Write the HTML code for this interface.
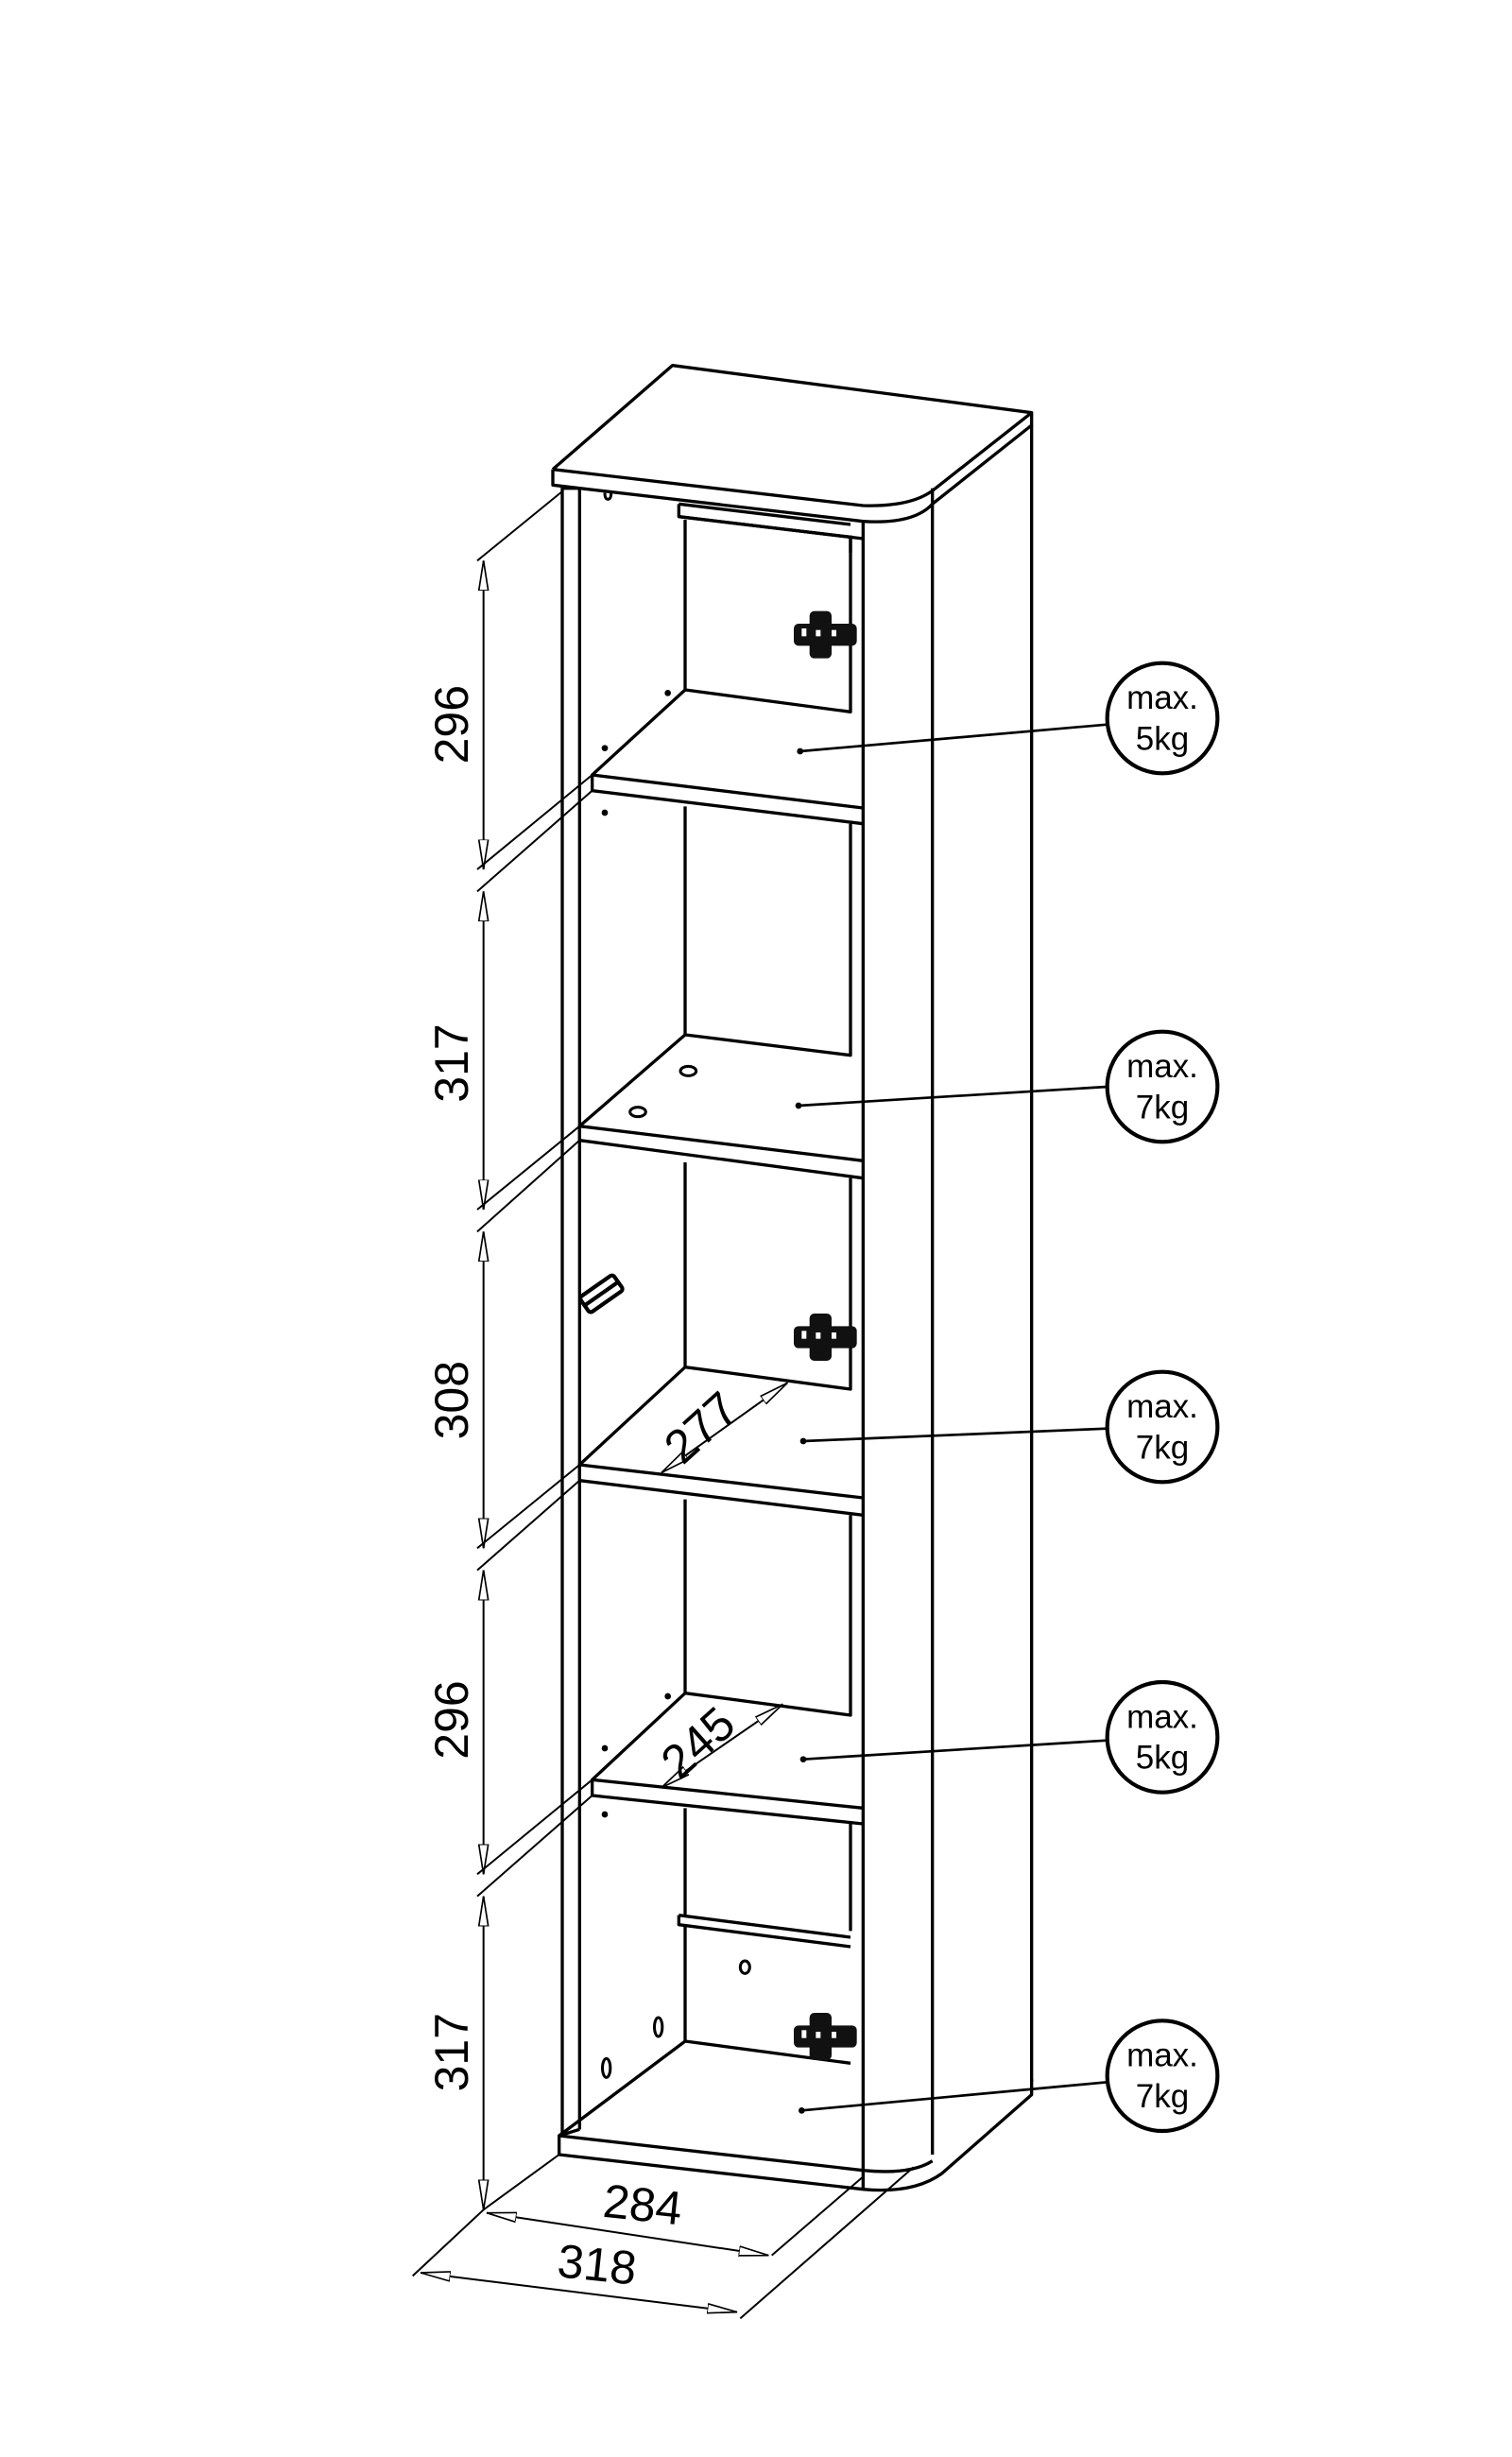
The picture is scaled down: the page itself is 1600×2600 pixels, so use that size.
<!DOCTYPE html>
<html><head><meta charset="utf-8"><style>
html,body{margin:0;padding:0;background:#fff;}
svg{display:block;}
text{font-family:"Liberation Sans","DejaVu Sans",sans-serif;fill:#000;}
</style></head><body>
<svg width="1600" height="2600" viewBox="0 0 960 1560" xmlns="http://www.w3.org/2000/svg">
<defs>
<marker id="ah" viewBox="0 0 20 8" refX="19" refY="4" markerWidth="20" markerHeight="8" markerUnits="userSpaceOnUse" orient="auto-start-reverse">
<path d="M0,1 L19,4 L0,7 Z" fill="#fff" stroke="#000" stroke-width="1"/>
</marker>
</defs>
<g fill="none" stroke="#000" stroke-width="2" stroke-linejoin="round">
<!-- top -->
<path d="M351,298 L427,232 L655,262 L594,310" />
<path d="M351,298 L548,321 Q580,322 594,310" />
<path d="M351,298 L351,308 L548,331 Q580,333 592,320 L655,270 L655,262" />
<line x1="592" y1="310" x2="592" y2="320"/>
<!-- right side -->
<line x1="655" y1="270" x2="655" y2="1322"/>
<line x1="592" y1="320" x2="592" y2="1368"/>
<line x1="548" y1="331" x2="548" y2="1390"/>
<!-- bottom right -->
<path d="M355,1356 L355,1368 L548,1390 Q580,1393 598,1380 L655,1330 L655,1320"/>
<path d="M548,1378 Q578,1381 592,1372"/>
<!-- left side -->
<line x1="357" y1="308" x2="357" y2="1356"/>
<line x1="368" y1="310" x2="368" y2="1352"/>
<path d="M357,310 L368,310"/>
<!-- top rail -->
<path d="M431,320 L431,328 L540,341 L540,351 M431,320 L540,333"/>
<line x1="431" y1="328" x2="548" y2="342"/>
<!-- shelf 1 -->
<path d="M435,330 L435,438 M435,438 L540,452 L540,340"/>
<path d="M435,438 L376,492 L548,513 M376,492 L376,502 L548,523"/>
<!-- shelf 2 -->
<path d="M435,512 L435,657 L540,670 L540,523"/>
<path d="M435,657 L368,715 L548,737 M368,715 L368,724 L548,748"/>
<!-- shelf 3 -->
<path d="M435,738 L435,868 L540,882 L540,748"/>
<path d="M435,868 L368,930 L548,951 M368,930 L368,940 L548,962"/>
<!-- shelf 4 -->
<path d="M435,952 L435,1075 L540,1089 L540,962"/>
<path d="M435,1075 L376,1130 L548,1148 M376,1130 L376,1140 L548,1158"/>
<!-- bottom compartment -->
<path d="M435,1148 L435,1216 M540,1158 L540,1226"/>
<path d="M431,1216 L540,1230 M431,1216 L431,1222 L540,1236"/>
<path d="M435,1222 L435,1296 L540,1310"/>
<path d="M435,1296 L355,1356 L548,1378"/>
<path d="M355,1356 L368,1352"/>
</g>
<!-- holes -->
<g fill="#000">
<circle cx="424" cy="440" r="2"/><circle cx="384" cy="475" r="2"/><circle cx="384" cy="516" r="2"/>
<circle cx="384" cy="1110" r="2"/><circle cx="384" cy="1152" r="2"/><circle cx="424" cy="1077" r="2"/>
<circle cx="508" cy="477" r="2"/><circle cx="507" cy="702" r="2"/><circle cx="510" cy="915" r="2"/>
<circle cx="510" cy="1117" r="2"/><circle cx="509" cy="1340" r="2"/>
</g>
<g fill="none" stroke="#000" stroke-width="1.8">
<ellipse cx="437" cy="680" rx="5" ry="3"/><ellipse cx="405" cy="706" rx="5" ry="3"/>
<ellipse cx="473" cy="1249" rx="3" ry="4"/><ellipse cx="418" cy="1287" rx="2.5" ry="6"/><ellipse cx="385" cy="1313" rx="2.5" ry="6"/>
<path d="M384,313 q0,4 2,4 q2,0 2,-4"/>
</g>
<!-- hinges -->
<g fill="#111">
<g transform="translate(504,388)"><rect x="10" y="0" width="14" height="30" rx="3"/><rect x="0" y="8" width="40" height="14" rx="3"/><rect x="5" y="11" width="3" height="5" fill="#fff"/><rect x="14" y="12" width="3" height="4" fill="#fff"/><rect x="24" y="12" width="3" height="4" fill="#fff"/></g>
<g transform="translate(504,834)"><rect x="10" y="0" width="14" height="30" rx="3"/><rect x="0" y="8" width="40" height="14" rx="3"/><rect x="5" y="11" width="3" height="5" fill="#fff"/><rect x="14" y="12" width="3" height="4" fill="#fff"/><rect x="24" y="12" width="3" height="4" fill="#fff"/></g>
<g transform="translate(504,1278)"><rect x="10" y="0" width="14" height="30" rx="3"/><rect x="0" y="8" width="40" height="14" rx="3"/><rect x="5" y="11" width="3" height="5" fill="#fff"/><rect x="14" y="12" width="3" height="4" fill="#fff"/><rect x="24" y="12" width="3" height="4" fill="#fff"/></g>
</g>
<g transform="translate(381,822) rotate(-35)" fill="#fff" stroke="#000" stroke-width="2.5"><rect x="-12" y="-6" width="26" height="12" rx="2"/><line x1="-12" y1="0" x2="14" y2="0"/></g>
<!-- dimension lines -->
<g fill="none" stroke="#000" stroke-width="1.2">
<line x1="307" y1="356" x2="307" y2="552" marker-start="url(#ah)" marker-end="url(#ah)"/>
<line x1="307" y1="566" x2="307" y2="768" marker-start="url(#ah)" marker-end="url(#ah)"/>
<line x1="307" y1="782" x2="307" y2="983" marker-start="url(#ah)" marker-end="url(#ah)"/>
<line x1="307" y1="997" x2="307" y2="1190" marker-start="url(#ah)" marker-end="url(#ah)"/>
<line x1="307" y1="1204" x2="307" y2="1403" marker-start="url(#ah)" marker-end="url(#ah)"/>
<line x1="357" y1="312" x2="303" y2="356"/>
<line x1="376" y1="492" x2="303" y2="552"/><line x1="376" y1="502" x2="303" y2="566"/>
<line x1="368" y1="715" x2="303" y2="768"/><line x1="368" y1="724" x2="303" y2="782"/>
<line x1="368" y1="930" x2="303" y2="983"/><line x1="368" y1="940" x2="303" y2="997"/>
<line x1="376" y1="1130" x2="303" y2="1190"/><line x1="376" y1="1140" x2="303" y2="1204"/>
<line x1="355" y1="1368" x2="307" y2="1403"/>
<line x1="307" y1="1403" x2="262" y2="1445"/>
<line x1="309" y1="1405" x2="488" y2="1432" marker-start="url(#ah)" marker-end="url(#ah)"/>
<line x1="267" y1="1443" x2="468" y2="1468" marker-start="url(#ah)" marker-end="url(#ah)"/>
<line x1="490" y1="1432" x2="548" y2="1382"/>
<line x1="470" y1="1472" x2="580" y2="1376"/>
<line x1="420" y1="935" x2="500" y2="878" marker-start="url(#ah)" marker-end="url(#ah)"/>
<line x1="420" y1="1135" x2="497" y2="1082" marker-start="url(#ah)" marker-end="url(#ah)"/>
<!-- leaders -->
<line x1="508" y1="477" x2="703" y2="460" stroke-width="1.6"/>
<line x1="507" y1="702" x2="703" y2="690" stroke-width="1.6"/>
<line x1="510" y1="915" x2="703" y2="907" stroke-width="1.6"/>
<line x1="510" y1="1117" x2="703" y2="1105" stroke-width="1.6"/>
<line x1="509" y1="1340" x2="703" y2="1322" stroke-width="1.6"/>
</g>
<!-- circles -->
<g fill="#fff" stroke="#000" stroke-width="2.5">
<circle cx="738" cy="456" r="35"/><circle cx="738" cy="690" r="35"/><circle cx="738" cy="906" r="35"/><circle cx="738" cy="1103" r="35"/><circle cx="738" cy="1318" r="35"/>
</g>
<g font-size="21" text-anchor="middle">
<text x="738" y="450">max.</text><text x="738" y="476">5kg</text>
<text x="738" y="684">max.</text><text x="738" y="710">7kg</text>
<text x="738" y="900">max.</text><text x="738" y="926">7kg</text>
<text x="738" y="1097">max.</text><text x="738" y="1123">5kg</text>
<text x="738" y="1312">max.</text><text x="738" y="1338">7kg</text>
</g>
<g font-size="30" text-anchor="middle">
<text transform="translate(297,460) rotate(-90)">296</text>
<text transform="translate(297,675) rotate(-90)">317</text>
<text transform="translate(297,889) rotate(-90)">308</text>
<text transform="translate(297,1092) rotate(-90)">296</text>
<text transform="translate(297,1303) rotate(-90)">317</text>
<text transform="translate(407,1410) rotate(6)">284</text>
<text transform="translate(378,1448) rotate(6)">318</text>
<text transform="translate(452,914) rotate(-42)">277</text>
<text transform="translate(450,1114) rotate(-42)">245</text>
</g>
</svg>
</body></html>
